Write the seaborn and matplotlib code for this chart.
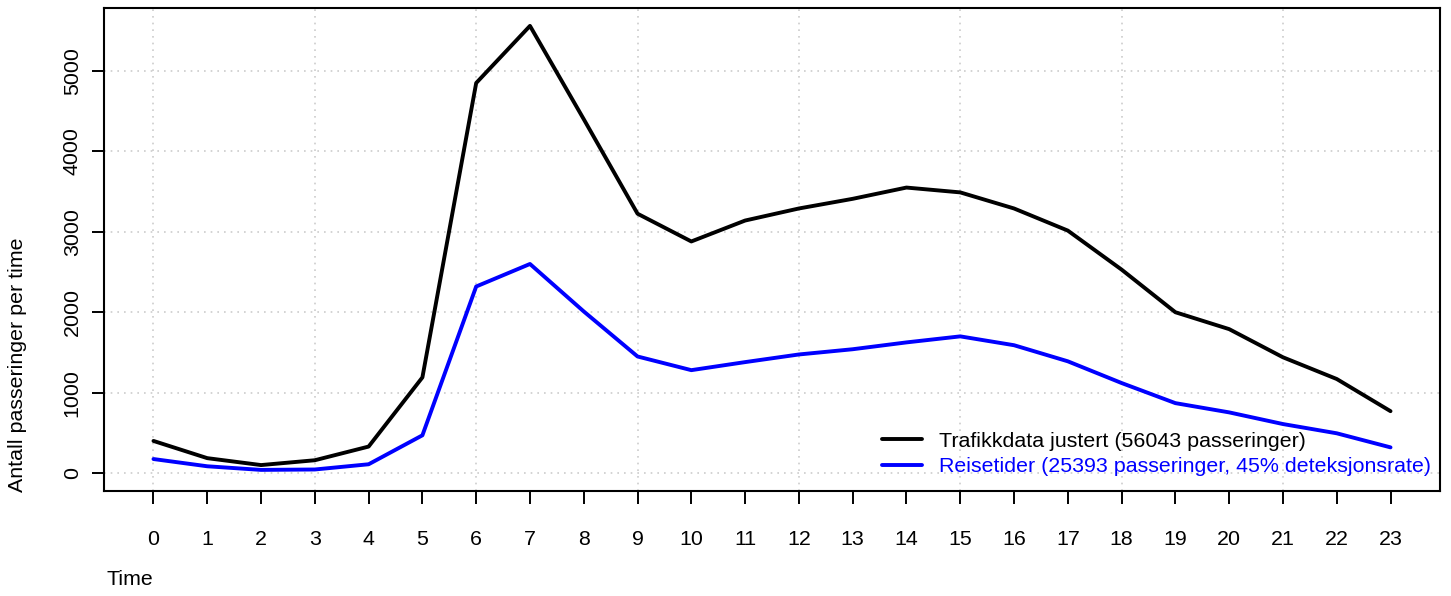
import numpy as np
import pandas as pd
import matplotlib
matplotlib.use("Agg")
import matplotlib.pyplot as plt
import seaborn as sns

# hourly counts
hours = list(range(24))
trafikk = [400, 186, 100, 160, 330, 1190, 4850, 5560, 4400, 3225, 2880, 3140,
           3290, 3410, 3550, 3490, 3290, 3015, 2530, 2000, 1790, 1440, 1170, 770]
reisetider = [175, 85, 40, 45, 110, 470, 2320, 2600, 2010, 1450, 1280, 1380,
              1475, 1540, 1625, 1700, 1590, 1390, 1120, 870, 755, 610, 495, 320]
lab_trafikk = "Trafikkdata justert (56043 passeringer)"
lab_reise = "Reisetider (25393 passeringer, 45% deteksjonsrate)"

df = pd.DataFrame({"Time": hours, "trafikk": trafikk, "reisetider": reisetider})

sns.set_style("ticks")
plt.rcParams["font.family"] = ["Liberation Sans", "DejaVu Sans"]
plt.rcParams["text.color"] = "black"
plt.rcParams["xtick.color"] = "black"
plt.rcParams["ytick.color"] = "black"
plt.rcParams["axes.labelcolor"] = "black"

FS = 15.4
W, H = 1451, 596
fig = plt.figure(figsize=(W / 100, H / 100), dpi=100)
ax = fig.add_axes([104 / W, 1 - 491 / H, (1440 - 104) / W, (491 - 8) / H])

sns.lineplot(data=df, x="Time", y="trafikk", color="black", lw=2.8, ax=ax, label=lab_trafikk)
sns.lineplot(data=df, x="Time", y="reisetider", color="#0000ff", lw=2.8, ax=ax, label=lab_reise)

# R-style 4% padding around data
ymax = max(trafikk)
ax.set_xlim(-0.92, 23.92)
ax.set_ylim(-0.04 * ymax, ymax * 1.04)

# dotted grid like R's grid()
for gx in range(0, 24, 3):
    ax.axvline(gx, color="#cccccc", ls=(0, (1, 3)), lw=1.2, zorder=0)
for gy in range(0, 6000, 1000):
    ax.axhline(gy, color="#cccccc", ls=(0, (1, 3)), lw=1.2, zorder=0)

ax.set_xticks(hours)
ax.set_yticks(range(0, 6000, 1000))
ax.tick_params(axis="x", length=9, width=1.4, pad=19, labelsize=FS)
ax.tick_params(axis="y", length=9, width=1.4, pad=7, labelsize=FS)
for t in ax.get_yticklabels():
    t.set_rotation(90)
    t.set_va("center")
for s in ax.spines.values():
    s.set_visible(True)
    s.set_linewidth(1.5)
    s.set_color("black")

ax.set_xlabel("Time", loc="left", fontsize=FS)
ax.xaxis.set_label_coords(0.0015, -0.184)
ax.xaxis.label.set_va("center")
ax.set_ylabel("Antall passeringer per time", fontsize=FS)
ax.yaxis.set_label_coords(-0.0644, 0.261)
ax.yaxis.label.set_va("center")

leg = ax.legend(loc="center left", bbox_to_anchor=(882 / W, 1 - 454 / H),
                bbox_transform=fig.transFigure, frameon=False, fontsize=FS,
                borderpad=0, borderaxespad=0, handlelength=1.85,
                handletextpad=0.8, labelspacing=0.32)
for txt, c in zip(leg.get_texts(), ["black", "#0000ff"]):
    txt.set_color(c)

fig.savefig("out.png", dpi=100)
